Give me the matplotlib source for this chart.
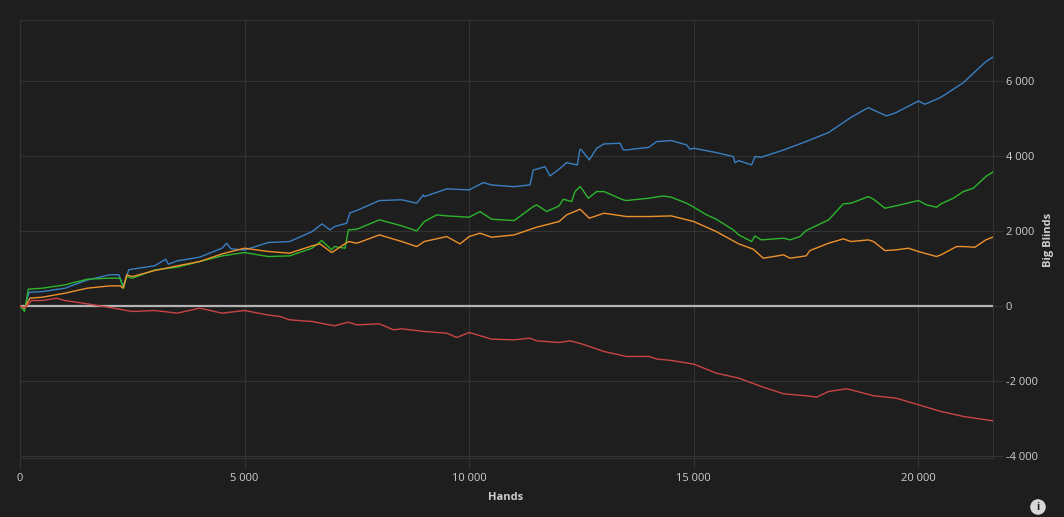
import matplotlib.pyplot as plt
from matplotlib.ticker import FuncFormatter, MultipleLocator

# winnings curves (hands, big blinds)

blue_hands = [0, 100, 200, 500, 1000, 1500, 2000, 2200, 2300, 2420, 2500, 3000, 3243, 3300,
              3500, 4000, 4500, 4600, 4700, 5000, 5528, 6000, 6500, 6723, 6902, 7000, 7272,
              7346, 7500, 8000, 8500, 8830, 8979, 9000, 9500, 10000, 10314, 10500, 11000,
              11353, 11427, 11500, 11687, 11798, 12000, 12169, 12406, 12466, 12500, 12673,
              12836, 13000, 13356, 13430, 13500, 14000, 14172, 14500, 14840, 14914, 15000,
              15500, 15879, 15916, 16000, 16287, 16361, 16500, 17000, 17500, 18000, 18500,
              18884, 19000, 19292, 19500, 20000, 20145, 20500, 21000, 21500, 21650]
blue_bb = [0, -90, 360, 380, 470, 690, 830, 830, 515, 960, 980, 1070, 1245, 1110,
           1200, 1300, 1540, 1670, 1520, 1490, 1690, 1715, 1980, 2187, 2027, 2115, 2205,
           2480, 2545, 2810, 2830, 2738, 2960, 2915, 3120, 3095, 3289, 3225, 3180,
           3227, 3627, 3645, 3716, 3467, 3645, 3822, 3760, 4178, 4160, 3893,
           4204, 4320, 4338, 4160, 4160, 4230, 4382, 4410, 4293, 4178, 4205,
           4090, 3982, 3822, 3875, 3760, 3982, 3965, 4160, 4385, 4625, 5030,
           5289, 5225, 5067, 5155, 5465, 5378, 5565, 5955, 6515, 6630]

green_hands = [0, 100, 185, 500, 1000, 1500, 2000, 2226, 2300, 2374, 2500, 3000, 3500, 4000,
               4500, 5000, 5528, 6000, 6500, 6715, 6938, 7000, 7235, 7309, 7500, 8000, 8500,
               8830, 9000, 9276, 9500, 10000, 10240, 10500, 11000, 11427, 11500, 11724, 12000,
               12095, 12280, 12354, 12466, 12500, 12651, 12836, 13000, 13430, 13500, 14000,
               14320, 14500, 14840, 15000, 15285, 15500, 15879, 16000, 16287, 16361, 16500,
               17000, 17140, 17362, 17500, 18000, 18327, 18500, 18884, 19000, 19255, 19500,
               20000, 20182, 20404, 20500, 20775, 21000, 21220, 21500, 21650]
green_bb = [0, -150, 444, 471, 560, 711, 738, 738, 471, 782, 738, 960, 1031, 1182,
            1333, 1422, 1316, 1333, 1538, 1742, 1493, 1582, 1538, 2027, 2045, 2294, 2134,
            2000, 2249, 2427, 2400, 2365, 2516, 2311, 2276, 2649, 2694, 2516, 2667,
            2845, 2782, 3049, 3182, 3138, 2871, 3049, 3049, 2827, 2810, 2872,
            2933, 2898, 2738, 2632, 2427, 2311, 2027, 1893, 1716, 1867, 1760,
            1805, 1760, 1849, 2009, 2294, 2720, 2738, 2916, 2845, 2605, 2667,
            2810, 2694, 2631, 2720, 2871, 3049, 3138, 3449, 3565]

orange_hands = [0, 100, 223, 500, 1000, 1500, 2000, 2226, 2300, 2374, 2500, 3000, 3500, 4000,
                4500, 5000, 5528, 6000, 6500, 6679, 6938, 7000, 7309, 7500, 8000, 8500, 8830,
                9000, 9500, 9795, 10000, 10240, 10500, 11000, 11500, 12000, 12169, 12466,
                12500, 12673, 13000, 13500, 14000, 14500, 15000, 15500, 16000, 16324, 16546,
                17000, 17140, 17500, 17585, 18000, 18327, 18500, 18884, 19000, 19255, 19500,
                19774, 20000, 20404, 20500, 20849, 21000, 21257, 21500, 21650]
orange_bb = [0, -62, 205, 231, 338, 471, 533, 533, 471, 827, 782, 942, 1067, 1182,
             1387, 1538, 1450, 1405, 1600, 1653, 1422, 1467, 1716, 1671, 1893, 1716, 1582,
             1716, 1849, 1653, 1849, 1938, 1831, 1893, 2098, 2249, 2427, 2578,
             2543, 2338, 2472, 2383, 2383, 2400, 2249, 1982, 1653, 1511, 1271,
             1360, 1271, 1333, 1475, 1671, 1787, 1716, 1760, 1716, 1475, 1493,
             1538, 1449, 1316, 1360, 1582, 1582, 1564, 1760, 1831]

red_hands = [0, 100, 260, 500, 816, 1000, 1500, 2000, 2500, 3000, 3500, 4000, 4500, 5000,
             5500, 5788, 6000, 6500, 7000, 7309, 7500, 8000, 8310, 8500, 9000, 9500, 9720,
             10000, 10500, 11000, 11353, 11500, 12000, 12243, 12500, 13000, 13500, 14000,
             14172, 14500, 15000, 15500, 16000, 16500, 17000, 17500, 17734, 18000, 18401,
             18500, 19000, 19500, 20000, 20500, 21000, 21500, 21650]
red_bb = [0, -60, 142, 142, 204, 142, 53, -44, -151, -124, -195, -62, -195, -124,
          -240, -284, -373, -418, -533, -436, -507, -480, -640, -613, -684, -729, -845,
          -711, -889, -907, -862, -933, -978, -933, -1013, -1218, -1351, -1351,
          -1418, -1458, -1555, -1795, -1929, -2151, -2347, -2400, -2436, -2285, -2214,
          -2240, -2400, -2462, -2640, -2818, -2951, -3040, -3067]

series = [
    (blue_hands, blue_bb, '#3a7fc2'),
    (green_hands, green_bb, '#2db52d'),
    (orange_hands, orange_bb, '#ee912c'),
    (red_hands, red_bb, '#c94444'),
]

bg = '#1e1e1e'
grid_c = '#333333'
text_c = '#cfcfcf'

plt.rcParams['font.family'] = ['Open Sans', 'DejaVu Sans']

fig = plt.figure(figsize=(10.64, 5.17), dpi=100, facecolor=bg)
ax = fig.add_axes([20 / 1064, 1 - 458 / 517, 973 / 1064, 438 / 517])
ax.set_facecolor(bg)

ax.axhline(0, color='#b4b4b4', lw=1.6, zorder=2)
for h, v, c in series:
    ax.plot(h, v, color=c, lw=1.0, zorder=3)

ax.set_xlim(0, 21660)
ax.set_ylim(-4060, 7627)
ax.xaxis.set_major_locator(MultipleLocator(5000))
ax.yaxis.set_major_locator(MultipleLocator(2000))
fmt = FuncFormatter(lambda v, p: f'{int(v):,}'.replace(',', ' '))
ax.xaxis.set_major_formatter(fmt)
ax.yaxis.set_major_formatter(fmt)

ax.yaxis.tick_right()
ax.grid(True, color=grid_c, lw=0.8, zorder=0)
for s in ax.spines.values():
    s.set_color(grid_c)
ax.tick_params(colors=grid_c, labelcolor=text_c, labelsize=8, length=7, width=0.8)
ax.tick_params(axis='x', pad=4)
ax.tick_params(axis='y', pad=2)

fig.text(506 / 1064, 1 - 497 / 517, 'Hands', ha='center', va='center', color=text_c,
         fontsize=8, fontweight='bold')
fig.text(1048 / 1064, 1 - 240 / 517, 'Big Blinds', ha='center', va='center', rotation=90,
         color=text_c, fontsize=8, fontweight='bold')

fig.text(1038 / 1064, 1 - 507 / 517, 'i', ha='center', va='center', fontsize=7.5,
         fontweight='bold', color=bg,
         bbox=dict(boxstyle='circle,pad=0.22', fc='#d8d8d8', ec='none'))

plt.savefig('out.png', facecolor=bg)
